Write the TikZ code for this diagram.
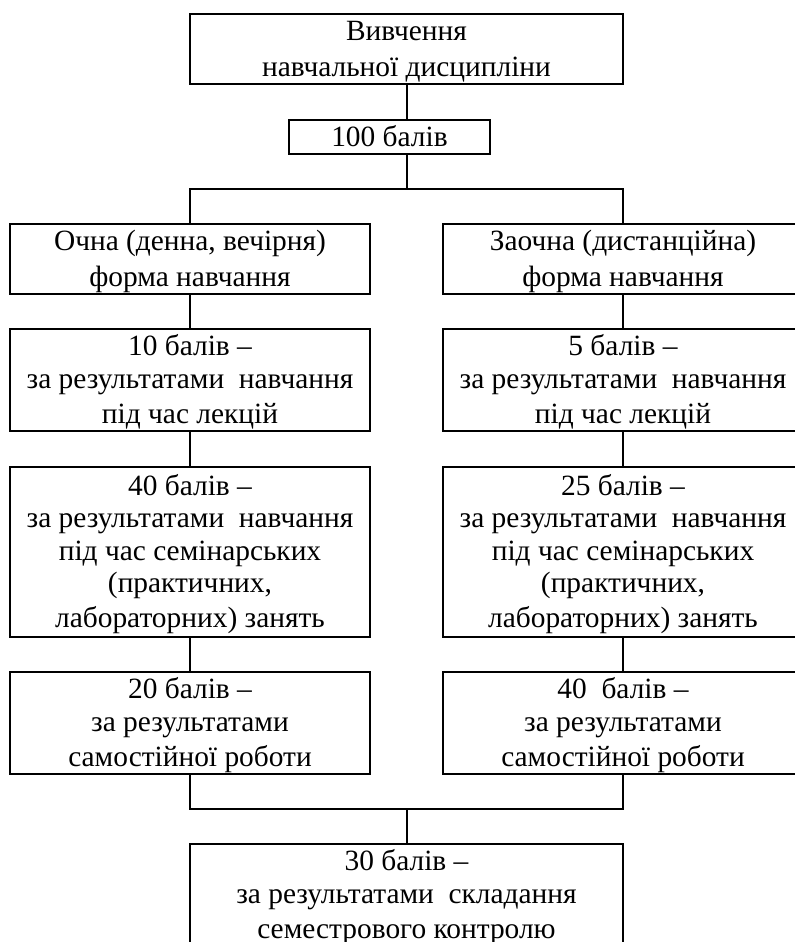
\documentclass[tikz,border=0pt]{standalone}
\usepackage{fontspec}
\setmainfont{Liberation Serif}
\usetikzlibrary{positioning}

\begin{document}
\begin{tikzpicture}[
    line width = 1pt,
    node distance = 17.5pt,
    ]

    \tikzstyle{box}=[
    draw = black,
    rectangle,
    align = flush center,
    inner sep = 0pt,
    outer sep = 0pt,
    font = \fontsize{14.7pt}{16.25pt}\selectfont,
    execute at begin node = {\rule[-3.5pt]{0pt}{17pt}},
    execute at end node = {\rule[-3.5pt]{0pt}{17pt}},
    ]
    \tikzstyle{col}=[box, text width=180pt]

    \useasboundingbox (0,0) rectangle (397.5pt,-471pt);

    \node[box, text width=216.5pt, minimum height=34.5pt] (top) at (203.25pt,-24.25pt) {Вивчення\\навчальної дисципліни};
    \node[box, text width=100.5pt, minimum height=17pt] (b100) [below=18pt of top, xshift=-8.5pt] {100 балів};

    \node[col, minimum height=35pt] (fL) [below=35pt of b100, xshift=-99.75pt] {Очна (денна, вечірня)\\форма навчання};
    \node[col, minimum height=35pt] (fR) [right=36.5pt of fL] {Заочна (дистанційна)\\форма навчання};

    \node[col, minimum height=51pt] (lL) [below=17.5pt of fL] {10 балів –\\за результатами\ \ навчання\\під час лекцій};
    \node[col, minimum height=51pt] (lR) [below=17.5pt of fR] {5 балів –\\за результатами\ \ навчання\\під час лекцій};

    \node[col, minimum height=85pt] (iL) [below=18pt of lL] {40 балів –\\за результатами\ \ навчання\\під час семінарських\\(практичних,\\лабораторних) занять};
    \node[col, minimum height=85pt] (iR) [below=18pt of lR] {25 балів –\\за результатами\ \ навчання\\під час семінарських\\(практичних,\\лабораторних) занять};

    \node[col, minimum height=51pt] (sL) [below=17.5pt of iL] {20 балів –\\за результатами\\самостійної роботи};
    \node[col, minimum height=51pt] (sR) [below=17.5pt of iR] {40\ \ балів –\\за результатами\\самостійної роботи};

    \node[box, text width=216.5pt, minimum height=51pt] (kontr) [below=35pt of sL, xshift=108.25pt] {30 балів –\\за результатами\ \ складання\\семестрового контролю};

    \path (top.south |- b100.south) ++(0,-17.5pt) coordinate (sp1);
    \path (kontr.north) ++(0,17.5pt) coordinate (sp2);

    \draw (top.south) -- (top.south |- b100.north);
    \draw (top.south |- b100.south) -- (sp1);
    \draw (fL.north) |- (sp1) -| (fR.north);
    \draw (fL) edge (lL) (lL) edge (iL) (iL) edge (sL);
    \draw (fR) edge (lR) (lR) edge (iR) (iR) edge (sR);
    \draw (sL.south) |- (sp2) -| (sR.south);
    \draw (sp2) -- (kontr);
  \end{tikzpicture}
\end{document}
